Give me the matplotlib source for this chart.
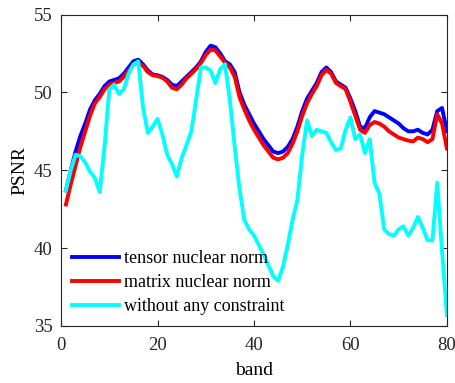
import matplotlib
matplotlib.use("Agg")
import matplotlib.pyplot as plt
import numpy as np

band = np.arange(1, 81)

tensor_nn = [
    43.7, 45.0, 46.2, 47.2, 48.0, 48.9, 49.5, 49.9, 50.4, 50.7,
    50.8, 50.9, 51.2, 51.6, 52.0, 52.1, 51.8, 51.4, 51.15, 51.1,
    51.0, 50.8, 50.5, 50.4, 50.7, 51.0, 51.3, 51.6, 52.0, 52.6,
    53.0, 52.9, 52.5, 52.0, 51.8, 51.3, 50.0, 49.2, 48.6, 48.0,
    47.5, 47.0, 46.6, 46.2, 46.1, 46.2, 46.5, 47.0, 47.8, 48.8,
    49.6, 50.1, 50.6, 51.3, 51.6, 51.3, 50.7, 50.5, 50.3, 49.6,
    48.8, 47.8, 47.7, 48.4, 48.8, 48.7, 48.6, 48.4, 48.2, 48.0,
    47.7, 47.5, 47.5, 47.6, 47.4, 47.3, 47.6, 48.8, 49.0, 47.5,
]

matrix_nn = [
    42.8, 44.1, 45.3, 46.5, 47.5, 48.5, 49.3, 49.7, 50.2, 50.5,
    50.6, 50.7, 51.0, 51.4, 51.8, 51.9, 51.7, 51.3, 51.1, 51.05,
    50.95, 50.7, 50.3, 50.2, 50.5, 50.9, 51.2, 51.5, 51.9, 52.4,
    52.75, 52.7, 52.3, 51.9, 51.6, 51.0, 49.7, 48.9, 48.2, 47.6,
    47.1, 46.6, 46.2, 45.8, 45.7, 45.8, 46.1, 46.7, 47.5, 48.5,
    49.3, 49.9, 50.4, 51.1, 51.45, 51.2, 50.6, 50.4, 50.2, 49.4,
    48.5, 47.6, 47.4, 47.9, 48.1, 48.0, 47.8, 47.5, 47.3, 47.1,
    47.0, 46.9, 46.85, 47.1, 47.0, 46.8, 47.0, 48.6, 48.0, 46.4,
]

no_constraint = [
    43.7, 45.0, 46.0, 45.9, 45.5, 44.9, 44.5, 43.6, 46.5, 50.2,
    50.5, 49.9, 50.2, 51.2, 51.8, 52.0, 49.0, 47.4, 47.8, 48.3,
    47.3, 46.0, 45.4, 44.6, 45.8, 46.6, 47.5, 49.5, 51.6, 51.6,
    51.4, 50.6, 51.5, 51.8, 49.5, 46.5, 43.8, 41.8, 41.2, 40.8,
    40.2, 39.6, 38.9, 38.2, 37.9, 38.8, 40.2, 41.8, 43.1, 46.0,
    48.2, 47.2, 47.6, 47.5, 47.4, 46.8, 46.3, 46.4, 47.6, 48.4,
    47.0, 47.3, 46.1, 47.0, 44.2, 43.5, 41.2, 40.9, 40.8, 41.2,
    41.4, 40.8, 41.3, 42.0, 41.3, 40.5, 40.5, 44.2, 39.8, 35.7,
]

plt.rcParams["font.family"] = ["Liberation Serif", "DejaVu Serif"]

fig = plt.figure(figsize=(4.56, 3.83), dpi=100)
ax = fig.add_axes([0.134, 0.149, 0.846, 0.813])

ax.plot(band, tensor_nn, color="#0000ff", linewidth=2.8, label="tensor nuclear norm")
ax.plot(band, matrix_nn, color="#ff0000", linewidth=2.8, label="matrix nuclear norm")
ax.plot(band, no_constraint, color="#00ffff", linewidth=2.8, label="without any constraint")

ax.set_xlim(0, 80)
ax.set_ylim(35, 55)
ax.set_xticks([0, 20, 40, 60, 80])
ax.set_yticks([35, 40, 45, 50, 55])
ax.tick_params(direction="in", top=True, right=True, labelsize=13.5,
               colors="#262626", length=4, width=0.8)
ax.tick_params(axis="x", pad=8)
ax.tick_params(axis="y", pad=6)
for s in ax.spines.values():
    s.set_color("#262626")
    s.set_linewidth(0.8)

ax.set_xlabel("band", fontsize=14, labelpad=6)
ax.set_ylabel("PSNR", fontsize=14, labelpad=4)

ax.legend(loc="lower left", frameon=False, fontsize=13, handlelength=2.6,
          handletextpad=0.3, labelspacing=0.38, borderaxespad=0.2)

fig.savefig("out.png", dpi=100)
